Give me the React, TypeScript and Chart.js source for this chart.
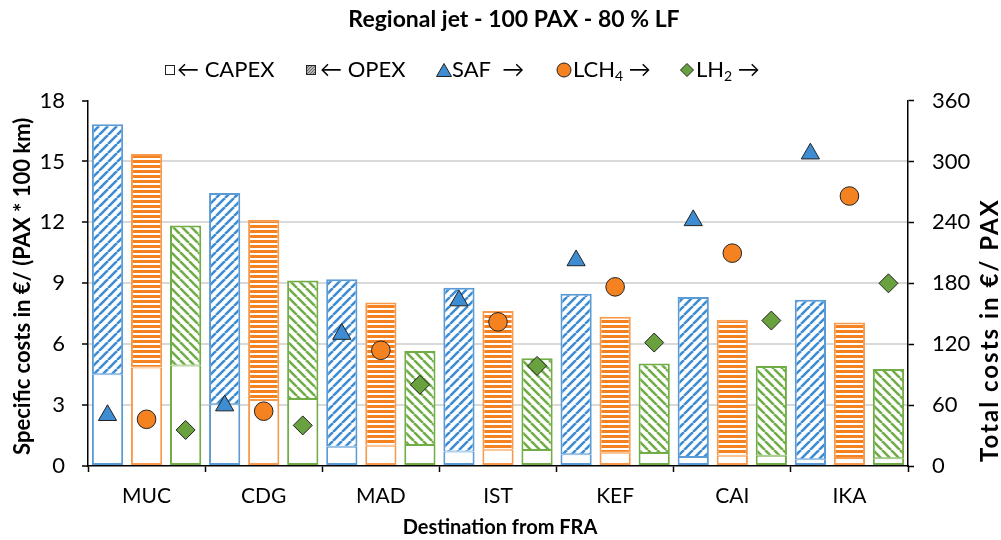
import React, { useEffect, useRef } from 'react';
import { Chart, registerables } from 'chart.js';
Chart.register(...registerables);

const categories = ['MUC', 'CDG', 'MAD', 'IST', 'KEF', 'CAI', 'IKA'];
// Specific costs in €/(PAX*100 km) (left axis), stacked CAPEX + OPEX
const safCapex = [4.52, 3.04, 0.95, 0.71, 0.58, 0.44, 0.33];
const safOpex = [12.31, 10.41, 8.25, 8.07, 7.9, 7.88, 7.86];
const lch4Capex = [4.85, 3.25, 1.0, 0.8, 0.65, 0.5, 0.4];
const lch4Opex = [10.52, 8.88, 7.05, 6.83, 6.7, 6.7, 6.67];
const lh2Capex = [4.95, 3.3, 1.04, 0.79, 0.64, 0.51, 0.38];
const lh2Opex = [6.9, 5.84, 4.63, 4.52, 4.41, 4.41, 4.4];
// Total costs in €/PAX (right axis)
const safTotal = [50, 59.5, 130, 163, 202.5, 242, 307.7];
const lch4Total = [46, 54, 114, 142, 176.5, 209.7, 266];
const lh2Total = [35.5, 40, 80, 98.6, 121.6, 143.3, 180];
const leftTicks = [0, 3, 6, 9, 12, 15, 18];
const rightTicks = [0, 60, 120, 180, 240, 300, 360];

const TITLE = 'Regional jet - 100 PAX - 80 % LF';
const X_TITLE = 'Destination from FRA';
const Y_TITLE = 'Specific costs in €/ (PAX * 100 km)';
const Y2_TITLE = 'Total costs in €/ PAX';

const BLUE = '#3E8CD2';
const BLUE_LINE = '#5B9BD5';
const ORANGE = '#F58220';
const ORANGE_LINE = '#F79A4D';
const GREEN = '#6AA13F';
const GREEN_LINE = '#70AD47';
const FONT = 'Lato';
const CLEAR = 'rgba(0,0,0,0)';

function diagPattern(color: string, size: number, lw: number, dir: '/' | '\\') {
  const c = document.createElement('canvas');
  c.width = size; c.height = size;
  const g = c.getContext('2d')!;
  g.fillStyle = '#fff';
  g.fillRect(0, 0, size, size);
  g.strokeStyle = color;
  g.lineWidth = lw;
  g.beginPath();
  for (const k of [-size, 0, size]) {
    if (dir === '/') { g.moveTo(k, size); g.lineTo(k + size, 0); }
    else { g.moveTo(k, 0); g.lineTo(k + size, size); }
  }
  g.stroke();
  return g.createPattern(c, 'repeat')!;
}

function hPattern(color: string) {
  const c = document.createElement('canvas');
  c.width = 6; c.height = 5;
  const g = c.getContext('2d')!;
  g.fillStyle = color;
  g.fillRect(0, 0, 6, 5);
  g.fillStyle = '#fff';
  g.fillRect(0, 3, 6, 2);
  return g.createPattern(c, 'repeat')!;
}

function icon(draw: (g: CanvasRenderingContext2D) => void, w = 18, h = 18) {
  const c = document.createElement('canvas');
  c.width = w; c.height = h;
  const g = c.getContext('2d')!;
  draw(g);
  return c;
}

type Seg = { t: string; sub?: boolean };

export default function App() {
  const ref = useRef<HTMLCanvasElement>(null);
  useEffect(() => {
    const capexIcon = icon((g) => {
      g.fillStyle = '#fff'; g.fillRect(4.5, 4.5, 9, 9);
      g.strokeStyle = '#222'; g.lineWidth = 1; g.strokeRect(4.5, 4.5, 9, 9);
    });
    const opexIcon = icon((g) => {
      g.fillStyle = '#fff'; g.fillRect(4.5, 4.5, 9, 9);
      g.save(); g.beginPath(); g.rect(4.5, 4.5, 9, 9); g.clip();
      g.strokeStyle = '#666'; g.lineWidth = 1.4; g.beginPath();
      for (let k = -12; k <= 12; k += 3) { g.moveTo(4.5 + k, 13.5); g.lineTo(13.5 + k, 4.5); }
      g.stroke(); g.restore();
      g.strokeStyle = '#222'; g.lineWidth = 1; g.strokeRect(4.5, 4.5, 9, 9);
    });
    const safIcon = icon((g) => {
      g.fillStyle = BLUE; g.strokeStyle = '#222'; g.lineWidth = 1;
      g.beginPath(); g.moveTo(9, 2.5); g.lineTo(16.5, 15.5); g.lineTo(1.5, 15.5); g.closePath(); g.fill(); g.stroke();
    });
    const lch4Icon = icon((g) => {
      g.fillStyle = ORANGE; g.strokeStyle = '#222'; g.lineWidth = 1;
      g.beginPath(); g.arc(9, 9, 7, 0, Math.PI * 2); g.fill(); g.stroke();
    });
    const lh2Icon = icon((g) => {
      g.fillStyle = GREEN; g.strokeStyle = '#222'; g.lineWidth = 1;
      g.beginPath(); g.moveTo(9, 2.5); g.lineTo(15.5, 9); g.lineTo(9, 15.5); g.lineTo(2.5, 9); g.closePath(); g.fill(); g.stroke();
    });

    const legendItems: { icon: HTMLCanvasElement; cx: number; tx: number; segs: Seg[] }[] = [
      { icon: capexIcon, cx: 170, tx: 177, segs: [{ t: '← CAPEX' }] },
      { icon: opexIcon, cx: 311, tx: 320, segs: [{ t: '← OPEX' }] },
      { icon: safIcon, cx: 443.5, tx: 452, segs: [{ t: 'SAF  →' }] },
      { icon: lch4Icon, cx: 564, tx: 573, segs: [{ t: 'LCH' }, { t: '4', sub: true }, { t: ' →' }] },
      { icon: lh2Icon, cx: 687, tx: 696, segs: [{ t: 'LH' }, { t: '2', sub: true }, { t: ' →' }] },
    ];

    const bluePat = diagPattern(BLUE, 9, 2.6, '/');
    const greenPat = diagPattern(GREEN_LINE, 9, 2.6, '\\');
    const orangePat = hPattern(ORANGE);

    // x positions on the hidden linear axis: category index + slot offset of each fuel
    const pts = (vals: number[], off: number) => vals.map((v, i) => ({ x: i + 0.5 + off, y: v }));

    const decorPlugin = {
      id: 'decor',
      afterDraw(chart: any) {
        const { ctx, chartArea } = chart;
        const midX = (chartArea.left + chartArea.right) / 2;
        const midY = (chartArea.top + chartArea.bottom) / 2;
        ctx.save();
        ctx.fillStyle = '#000';
        ctx.textBaseline = 'middle';
        ctx.textAlign = 'center';
        ctx.font = `bold 23px ${FONT}`;
        ctx.fillText(TITLE, 514, 20);
        ctx.font = `bold 20px ${FONT}`;
        ctx.fillText(X_TITLE, midX + 2, 528);
        // left axis title
        ctx.save();
        ctx.translate(23, midY + 3);
        ctx.rotate(-Math.PI / 2);
        ctx.font = `bold 22px ${FONT}`;
        ctx.fillText(Y_TITLE, 0, 0);
        ctx.restore();
        // right axis title, reading bottom-to-top
        ctx.save();
        ctx.translate(990, chartArea.bottom - 4);
        ctx.rotate(-Math.PI / 2);
        ctx.textAlign = 'left';
        ctx.font = `bold 24px ${FONT}`;
        (ctx as any).letterSpacing = '2px';
        ctx.fillText(Y2_TITLE, 0, 0);
        ctx.restore();

        // legend
        const ly = 70;
        ctx.textAlign = 'left';
        for (const it of legendItems) {
          ctx.drawImage(it.icon, Math.round(it.cx - it.icon.width / 2), Math.round(ly - it.icon.height / 2));
          let x = it.tx;
          for (const s of it.segs) {
            ctx.font = s.sub ? `14px ${FONT}` : `22px ${FONT}`;
            ctx.fillText(s.t, x, s.sub ? ly + 6 : ly);
            x += ctx.measureText(s.t).width;
          }
        }
        ctx.restore();
      },
    };

    const barCommon = { borderSkipped: false as const, barPercentage: 0.8, categoryPercentage: 1, grouped: false, xAxisID: 'x2', yAxisID: 'y', order: 2 };
    const capexBorder = { left: 2, right: 2, bottom: 2, top: 1 };
    const opexBorder = { left: 2, right: 2, bottom: 1, top: 2 };
    const markerCommon = { xAxisID: 'x2', yAxisID: 'y2', showLine: false, borderColor: '#222', borderWidth: 1, order: 1, pointHoverRadius: 0 };

    const chart = new Chart(ref.current!, {
      type: 'bar',
      data: {
        labels: categories,
        datasets: [
          { ...markerCommon, type: 'scatter', label: 'SAF', data: pts(safTotal, -1 / 3), pointStyle: 'triangle', pointRadius: 10.5, backgroundColor: BLUE } as any,
          { ...markerCommon, type: 'scatter', label: 'LCH4', data: pts(lch4Total, 0), pointStyle: 'circle', pointRadius: 9.3, backgroundColor: ORANGE } as any,
          { ...markerCommon, type: 'scatter', label: 'LH2', data: pts(lh2Total, 1 / 3), pointStyle: 'rectRot', pointRadius: 9.5, backgroundColor: GREEN } as any,
          { ...barCommon, label: 'SAF CAPEX', data: pts(safCapex, -1 / 3), stack: 'saf', borderWidth: capexBorder, backgroundColor: '#fff', borderColor: BLUE_LINE },
          { ...barCommon, label: 'SAF OPEX', data: pts(safOpex, -1 / 3), stack: 'saf', borderWidth: opexBorder, backgroundColor: bluePat, borderColor: BLUE_LINE },
          { ...barCommon, label: 'LCH4 CAPEX', data: pts(lch4Capex, 0), stack: 'lch4', borderWidth: capexBorder, backgroundColor: '#fff', borderColor: ORANGE_LINE },
          { ...barCommon, label: 'LCH4 OPEX', data: pts(lch4Opex, 0), stack: 'lch4', borderWidth: opexBorder, backgroundColor: orangePat, borderColor: ORANGE_LINE },
          { ...barCommon, label: 'LH2 CAPEX', data: pts(lh2Capex, 1 / 3), stack: 'lh2', borderWidth: capexBorder, backgroundColor: '#fff', borderColor: GREEN_LINE },
          { ...barCommon, label: 'LH2 OPEX', data: pts(lh2Opex, 1 / 3), stack: 'lh2', borderWidth: opexBorder, backgroundColor: greenPat, borderColor: GREEN_LINE },
        ],
      },
      options: {
        animation: false,
        responsive: true,
        maintainAspectRatio: false,
        layout: { autoPadding: false, padding: { left: 8, right: 0, top: 0, bottom: 0 } },
        plugins: {
          tooltip: { enabled: false },
          legend: { display: false },
          title: {
            display: true,
            text: TITLE,
            color: CLEAR,
            font: { family: FONT, size: 23, weight: 'bold' },
            padding: { top: 7, bottom: 66 },
          },
        },
        scales: {
          x: {
            type: 'category',
            position: 'bottom',
            offset: true,
            afterFit: (s: any) => { s.height = 74; },
            grid: { display: true, offset: true, drawOnChartArea: false, drawTicks: true, tickLength: 6, tickColor: '#000', tickWidth: 1.5 },
            border: { display: true, color: '#000', width: 1.5 },
            ticks: { color: '#000', font: { family: FONT, size: 21 }, padding: 12 },
            title: { display: false, text: X_TITLE },
          },
          x2: { type: 'linear', position: 'bottom', min: 0, max: categories.length, offset: false, display: false, ticks: { stepSize: 1 } },
          y: {
            type: 'linear',
            position: 'left',
            stacked: true,
            min: leftTicks[0],
            max: leftTicks[leftTicks.length - 1],
            afterFit: (s: any) => { s.width = 80; },
            afterBuildTicks: (s: any) => { s.ticks = leftTicks.map((v) => ({ value: v })); },
            grid: {
              color: (c: any) => (c.tick && (c.tick.value === 18 || c.tick.value === 0) ? CLEAR : '#d9d9d9'),
              lineWidth: 2,
              tickColor: '#000',
              tickLength: 6,
              tickWidth: 1.5,
            },
            border: { display: true, color: '#000', width: 1.5 },
            ticks: { color: '#000', font: { family: FONT, size: 22 }, padding: 17 },
            title: { display: false, text: Y_TITLE },
          },
          y2: {
            type: 'linear',
            position: 'right',
            min: rightTicks[0],
            max: rightTicks[rightTicks.length - 1],
            afterFit: (s: any) => { s.width = 93; },
            afterBuildTicks: (s: any) => { s.ticks = rightTicks.map((v) => ({ value: v })); },
            grid: { drawOnChartArea: false, tickColor: '#000', tickLength: 6, tickWidth: 1.5 },
            border: { display: true, color: '#000', width: 1.5 },
            ticks: { color: '#000', font: { family: FONT, size: 22 }, padding: 18 },
            title: { display: false, text: Y2_TITLE },
          },
        },
      } as any,
      plugins: [decorPlugin],
    });
    return () => chart.destroy();
  }, []);

  return (
    <div style={{ position: 'fixed', left: 0, top: 0, width: 1001, height: 540, background: '#fff' }}>
      <canvas ref={ref} />
    </div>
  );
}
